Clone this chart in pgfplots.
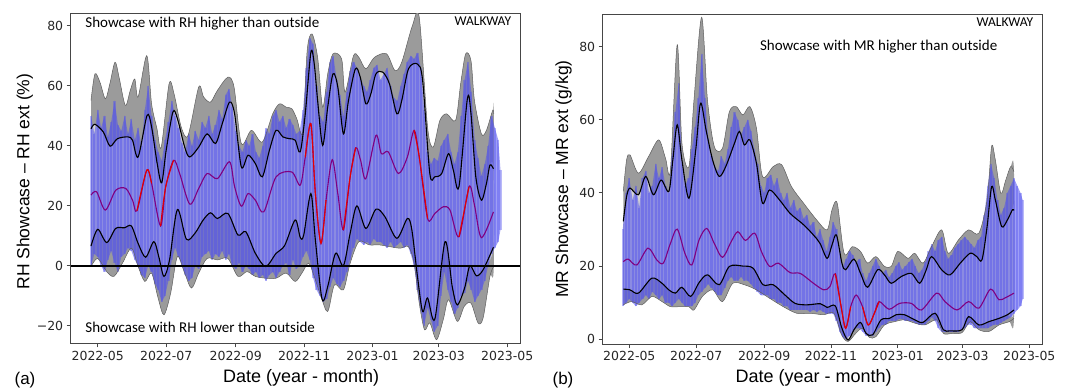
\documentclass[border=0pt]{standalone}
\usepackage{pgfplots}
\pgfplotsset{compat=1.18}
\usepackage{pgfplotstable}
\usepackage{fontspec}
\setmainfont{DejaVu Sans}
\newfontfamily\labfont{Liberation Sans}
\newfontfamily\calfont{Carlito}
\definecolor{dgray}{RGB}{155,155,155}
\definecolor{lgray}{RGB}{212,212,212}
\definecolor{edgegray}{RGB}{95,95,95}
\definecolor{bluefill}{RGB}{80,80,238}
\definecolor{meanpurple}{RGB}{128,0,128}
\definecolor{meanred}{RGB}{228,0,0}
\definecolor{framegray}{RGB}{70,70,70}

% ---------------- Panel (a) ----------------
\pgfplotstableread{
d v
-6 45.7
-2.5 47.2
5 44.6
11 39.9
17.5 42.4
27 43
31 41.9
36 36.3
44 50.2
48 46.3
53 34.1
57 27.7
61 38.5
67 51.3
71 49.1
77.5 39.6
82 36.3
90 39.6
97.5 44
105 40.8
111 47.4
117.5 54.6
122 50.7
128 33
134 36.9
140.5 34.1
146.7 29.7
153 38.5
159 45.2
165 43
171 42.4
176 41.9
180.5 38
185 50.7
190 71.2
193 67.3
196 55.1
200.5 40.2
205 52.9
209.7 64
214 59.6
219 44
223.5 55.1
229.7 65.7
234 62.9
239 54
243.5 57.4
248 64
254 64.6
260 60.7
266.6 50.7
271 55.1
277 65.7
285 67.3
289.6 61.8
296 30.8
300.5 29.7
306.6 30.8
312.7 37.4
317 31.9
322 26.4
329.5 55.7
332.7 50.7
337 29.7
342 21.9
346.5 27.5
349.6 33.6
352.7 32.4
}\aub

\pgfplotstableread{
d v
-6 23.6
-1 24.7
6.8 18.6
16 25.2
25 25.8
31 21.9
35 18.4
43.7 31.9
48 27.5
56 13.3
60.6 26.4
67.6 35.2
73 30.8
82 20.6
90 25.8
97.5 30.8
106.7 29.1
117.5 34.7
122 26.4
128 19.9
134 24.1
140.5 21.9
148 18
159 29.7
173 31.3
180.5 26.9
185 36.3
190 47.4
194 24.1
199 7.5
203.5 21.9
209 35.4
214 24.1
219 12
225 29.7
230 39.4
234.3 35.2
239 29.1
248 43.5
252.8 37.4
259 38
268 30.8
276 36.3
282 45.2
286.6 36.3
294 15.8
300.5 17.5
308 19.7
314 18.6
322 9.7
331 26.4
335.8 20.3
342 9.4
352.7 18
}\amean

\pgfplotstableread{
d v
-6 6.6
0 12.2
8 7.8
16 12.5
23.7 12.7
30 13.3
36 7.5
42.7 2.9
50 8.1
54.4 3.1
59 -3.5
64 2
71 18.8
79 8.9
86.7 10.9
94 15.3
100.5 17.7
106.7 15.8
116 17.5
125 10.3
132 11.4
140.5 4.2
149.7 -0.2
159 4.2
166.6 6.8
176 15.3
180.5 9.5
183.6 10.3
190 24.1
194 8.6
200 -11.1
205 -6.9
212 4.2
219 0.1
225 10.9
231 20
239 12.5
248 18.9
256 16.4
266.6 9.2
276 15.8
280 12
285 -3.5
289.6 -15.2
294 -10.7
300.5 -17.7
309.6 8.1
316 -6.9
320.5 -13
327 -7.4
331.7 0.1
337.5 -3.3
343.5 -1.3
352.7 6.2
}\alb

\pgfplotstableread{
d v
-6 55.1
-2.5 64
2 61.2
6.8 55.7
10.8 60.7
15.4 67.9
19 62.9
24.6 53.5
29 58.5
33 62.3
36 56.3
43.7 70.1
48 54
52.8 45.7
56.6 39.6
63.6 60.7
68 57.4
74.4 46.3
80.5 43.5
90 59.6
94.4 56.3
100.5 54.6
106.7 58.5
116 62.9
121.5 59.6
128 40.8
137 45.2
146.7 41.3
156 50.7
162 54
168 52.9
173 52.4
177.4 49.1
182.7 44.6
186.7 71.8
191 77.3
196 69.5
200.5 52.9
205 64
209.7 70.7
217.4 69
220.5 57.9
228 70.1
232.8 69.5
239 65.7
246.6 69.5
257.4 70.7
265 65.1
271 67.9
280.5 80.1
286.6 82.8
294 46.3
299 39.6
305 48.5
311 50.7
319 48.5
323.5 60.7
328 70.7
332.7 68.4
335.8 55.1
342 44
346.5 45.2
352 51.8
353 50.7
}\aet

\pgfplotstableread{
d v
-6 -0.2
0 2.5
8 -1.9
14.5 -3.5
22 0.9
30 5.9
36 -0.2
42 -5.2
48 -2.4
53.8 -10.7
59 -16.3
65 -9.1
71 3.1
77.5 -2.4
83.6 -7.4
90 -2.4
97.5 2.5
106.7 2
116 2.5
125 -3.5
133 -1.9
140.5 -3.5
149.7 -4.1
159 -4.1
168 -2.4
176 -5.2
182 -2.4
188 0.9
193 -3.5
199 -10.2
205 -15.2
211 -6.3
219 -8
225 0.9
232.8 8.1
242 7
251 7
260.5 6.4
269.7 5.9
277 6.4
282 0.9
286.6 -12.4
291.3 -21.3
296 -19
302 -24.6
308 -17.9
312.7 -11.3
320.5 -18.5
326.7 -13.5
332.7 -12.4
339 -19
343.5 -17.4
349.6 -3.5
353 -0.2
}\aeb

\pgfplotstableread{
d v
-6 50
-3 44
0 52
3 46
6 50
9 43
12 48
15 55
18 47
21 45
24 50
27 44
30 49
33 42
36 46
39 40
42 52
45 60
48 50
51 42
54 38
57 35
60 42
63 48
66 55
69 50
72 46
75 41
78 38
81 44
84 40
87 45
90 42
93 48
96 46
99 50
102 44
105 47
108 52
111 49
114 57
117 59
120 53
123 45
126 40
129 38
132 42
135 40
138 44
141 38
144 36
147 40
150 46
153 44
156 50
159 52
162 48
165 50
168 46
171 49
174 47
177 44
180 45
183 52
186 66
189 76
192 74
195 60
198 50
201 48
204 58
207 68
210 70
213 62
216 57
219 50
222 58
225 65
228 68
231 66
234 63
237 60
240 58
243 62
246 66
249 67
252 62
255 64
258 66
261 60
264 56
267 55
270 60
273 64
276 68
279 70
282 69
285 71
288 66
291 52
294 38
297 34
300 36
303 35
306 40
309 42
312 44
315 38
318 34
321 38
324 50
327 62
330 68
333 58
336 42
339 36
342 30
345 34
348 40
351 50
354 46
357 42
359 32
}\abt

\pgfplotstableread{
d v
-6 0
-3 4
0 3
3 0
6 -2
9 2
12 5
15 1
18 -2
21 3
24 4
27 6
30 5
33 2
36 0
39 -3
42 -4
45 0
48 -2
51 -6
54 -8
57 -12
60 -10
63 -5
66 2
69 6
72 3
75 0
78 -3
81 -5
84 -4
87 0
90 -1
93 3
96 4
99 5
102 2
105 4
108 3
111 5
114 2
117 4
120 0
123 -1
126 1
129 -2
132 0
135 -1
138 -3
141 -2
144 -4
147 -3
150 -5
153 -3
156 -2
159 -4
162 -2
165 0
168 1
171 -3
174 2
177 -1
180 0
183 3
186 5
189 2
192 -4
195 -8
198 -10
201 -12
204 -11
207 -7
210 -4
213 -6
216 -7
219 -5
222 -2
225 2
228 6
231 9
234 8
237 7
240 8
243 7
246 9
249 8
252 8
255 7
258 6
261 8
264 6
267 7
270 8
273 6
276 7
279 4
282 0
285 -8
288 -15
291 -20
294 -14
297 -18
300 -22
303 -20
306 -10
309 -2
312 -8
315 -12
318 -16
321 -14
324 -10
327 -9
330 -5
333 -8
336 -12
339 -10
342 -8
345 -5
348 0
351 4
354 6
357 8
359 12
}\abb

% ---------------- Panel (b) ----------------
\pgfplotstableread{
d v
-5.5 32.2
-2.5 39
0.6 41.3
8.3 39.5
15 44.5
22 39.5
29 43.5
36 40.4
39.7 49
43.7 58.6
48 49
54.4 38.5
60.6 51.7
65 64.5
70 57.2
76 49
82 44.5
88 47.2
96 53.6
100.5 56.8
105 53.1
110 54.5
116 48.1
121.5 37.2
128 40.8
137 38.1
146.7 34.4
159 31.3
168 28.5
174 26.2
180.5 22.1
185 25.8
189 28.5
194 20.8
197.4 19
205 21.9
211 18
217.4 14.2
226.6 19
232.8 17.6
239 15.3
248 17.1
257.4 18
265 15.3
271 19
275.8 22.6
285 19
292.7 17.6
302 20.8
311 23.5
317 22.6
321.8 21.7
326.5 30.8
330.6 41.7
334 38.1
339.8 30.8
345 32.6
349.6 35.4
351 35.2
}\bub

\pgfplotstableread{
d v
-5.5 21.2
-1 21.9
6.8 20.3
17 24.9
25 21.7
31 20.8
37.5 26.2
43.7 30.1
50.7 23.5
57 20.3
63.7 27.2
70.7 30.3
77.5 26.2
85 22.4
93 26.7
99 29.4
106 27
114.4 29
120.5 24
128 19.9
136 20.8
146.7 18.2
156 18
168 15.3
177.4 13.5
183 14.4
188 17.9
193 9.4
197.4 3
202 8.9
207 12.1
212.8 8.9
218 3.9
223.6 7.1
228 10.3
237 8.2
246.6 9.8
257.4 9.8
266.6 8
280.4 12.6
288 10.3
299 8
309.6 10.3
319 8.5
329.6 13.7
337.3 10.8
343.5 11.4
351 12.6
}\bmean

\pgfplotstableread{
d v
-5.5 13.7
0.6 13.5
8.3 12.6
20.6 16.7
29.8 15.3
36 13.5
42 12.6
48 14.2
56 11.7
63.7 15.5
71.3 17.6
82 14.9
91.3 19.9
103.6 20
113 19.4
122 14.9
131.3 14.9
142 12.1
151.3 9.8
162 9.4
174.4 9.7
180.5 8.7
188 9.1
194 3
199.6 -0.2
205 2.6
211 4.6
216 1.6
222 1.2
229.7 5.3
237.4 5.7
243.5 6.7
251 6.7
260.5 5.3
268 4.6
279 7.1
286.6 2.6
292.7 2.3
303.6 2.6
309.6 6.2
319 3.9
328 4.8
337.3 5.7
345 6.7
351 8
}\blb

\pgfplotstableread{
d v
-5.5 40.4
-2.5 49
0.6 50.4
8.3 45.4
17.5 49.9
26.8 54.5
33 49.5
37.5 46.3
43.7 80.5
48 53.6
54.4 47.2
59 65.4
66 88
71.3 65.4
77.5 52.7
85 52.2
91.3 62.2
97.5 63.6
103.6 61.3
110 63.6
116 57.7
121.5 44.5
131.3 47.2
139 47.7
148 41.7
159 37.2
171 32.6
180.5 29.9
185 35.4
189.7 37.2
196 23.5
203.6 25.3
211 24
217.4 20.8
225 22.6
232.8 19.9
239 19.9
245 24
254.3 22.1
260.5 23.5
268 20.8
275.8 25.3
285 29.9
291 23.5
300.5 27.2
309.6 29.9
319 29
326.5 38.1
330.6 52.7
334 49
339 39.9
343.5 43.5
348 47.2
351 45.8
}\bet

\pgfplotstableread{
d v
-5.5 9.4
2 10.3
11.4 9.4
20.6 11.7
29.8 10.3
37.5 8.9
45 8.9
54.4 8.9
59 8
66.7 11.7
76 13.5
85 10.3
94.4 15.3
105 14.9
116 13.5
128 11.2
140.5 8.9
152.8 7.1
165 7.1
177.4 6.7
186.7 7.1
193.7 1.2
199.6 -0.6
206.6 1.6
212.8 3
219 0.5
225 0.7
232.8 3.9
242 4.8
251 5.3
260.5 4.4
269.7 3.9
280.4 5.3
286.6 1.6
294.3 1.6
303.6 1.8
311 4.8
319 2.6
328 2.1
337.3 3.9
346.6 4.8
351 5.7
}\beb

\pgfplotstableread{
d v
-6 30
-3 40
0 44
3 38
6 42
9 36
12 44
15 46
18 40
21 42
24 48
27 44
30 47
33 42
36 40
39 50
42 62
45 70
48 48
51 42
54 44
57 52
60 58
63 66
66 78
69 66
72 55
75 50
78 47
81 46
84 50
87 48
90 52
93 58
96 62
99 60
102 56
105 58
108 60
111 57
114 52
117 48
120 42
123 40
126 44
129 45
132 42
135 44
138 40
141 38
144 40
147 36
150 38
153 35
156 36
159 33
162 34
165 31
168 32
171 28
174 30
177 27
180 24
183 28
186 32
189 30
192 24
195 20
198 22
201 24
204 23
207 21
210 22
213 18
216 16
219 18
222 20
225 22
228 20
231 18
234 19
237 17
240 18
243 20
246 21
249 19
252 20
255 21
258 22
261 20
264 18
267 19
270 21
273 24
276 26
279 24
282 27
285 28
288 24
291 22
294 23
297 25
300 26
303 27
306 28
309 27
312 26
315 25
318 27
321 28
324 34
327 42
330 48
333 44
336 38
339 34
342 36
345 40
348 42
351 44
354 42
357 40
359 38
}\bbt

\pgfplotstableread{
d v
-6 9
-3 10
0 11
3 10
6 9
9 10
12 11
15 12
18 11
21 13
24 12
27 11
30 12
33 10
36 10
39 9
42 10
45 11
48 10
51 9
54 9
57 9
60 10
63 12
66 13
69 14
72 15
75 14
78 13
81 12
84 12
87 14
90 16
93 17
96 16
99 16
102 17
105 16
108 16
111 15
114 14
117 13
120 12
123 12
126 12
129 11
132 11
135 10
138 10
141 9
144 9
147 8
150 8
153 8
156 8
159 8
162 8
165 7.5
168 8
171 7.5
174 8
177 7.5
180 7
183 7
186 7
189 5
192 2
195 0.5
198 0
201 1
204 2
207 3
210 3
213 2
216 1
219 1
222 1
225 2
228 3
231 4
234 4
237 5
240 5
243 5
246 5.5
249 5.5
252 5
255 5
258 5
261 4.5
264 4
267 4
270 4
273 5
276 6
279 5
282 3
285 2
288 2
291 2
294 2
297 2
300 2
303 2.5
306 3
309 4
312 4
315 3
318 3
321 3
324 3
327 3
330 3.5
333 4
336 4
339 4.5
342 5
345 5.5
348 6
351 7
354 8
357 9
359 11
}\bbb

% ---- closed bands: upper curve forward, lower curve reversed ----
\pgfplotstablesort[sort key=d, sort cmp=float <]{\aenv}{\aet}
\pgfplotstablesort[sort key=d, sort cmp=float >]{\aebr}{\aeb}
\pgfplotstablevertcat{\aenv}{\aebr}
\pgfplotstablesort[sort key=d, sort cmp=float <]{\ain}{\aub}
\pgfplotstablesort[sort key=d, sort cmp=float >]{\albr}{\alb}
\pgfplotstablevertcat{\ain}{\albr}
\pgfplotstablesort[sort key=d, sort cmp=float <]{\ablue}{\abt}
\pgfplotstablesort[sort key=d, sort cmp=float >]{\abbr}{\abb}
\pgfplotstablevertcat{\ablue}{\abbr}

\pgfplotstablesort[sort key=d, sort cmp=float <]{\benv}{\bet}
\pgfplotstablesort[sort key=d, sort cmp=float >]{\bebr}{\beb}
\pgfplotstablevertcat{\benv}{\bebr}
\pgfplotstablesort[sort key=d, sort cmp=float <]{\bin}{\bub}
\pgfplotstablesort[sort key=d, sort cmp=float >]{\blbr}{\blb}
\pgfplotstablevertcat{\bin}{\blbr}
\pgfplotstablesort[sort key=d, sort cmp=float <]{\bblue}{\bbt}
\pgfplotstablesort[sort key=d, sort cmp=float >]{\bbbr}{\bbb}
\pgfplotstablevertcat{\bblue}{\bbbr}

% ---- streak tables: top value with the bottom value beside it ----
\pgfplotstablecreatecol[copy column from table={\abb}{v}]{lo}{\abt}
\pgfplotstablecreatecol[copy column from table={\bbb}{v}]{lo}{\bbt}

\pgfplotsset{
  panel/.style={
    scale only axis,
    height=330pt,
    anchor=south west,
    axis line style={draw=framegray, line width=0.8pt},
    tick align=outside,
    xtick pos=lower, ytick pos=left,
    major tick length=4pt,
    tick style={framegray, line width=0.8pt},
    tick label style={font=\fontsize{12.5}{14}\selectfont, text=black!85},
    xtick={0,61,123,184,245,304,365},
    xticklabels={2022-05,2022-07,2022-09,2022-11,2023-01,2023-03,2023-05},
    xlabel={Date (year - month)},
    xlabel style={font=\labfont\fontsize{18}{20}\selectfont, anchor=center},
    ylabel style={font=\labfont\fontsize{17.5}{20}\selectfont, anchor=center},
    clip=true,
  },
  envedge/.style={edgegray, line width=0.5pt, smooth},
  blk/.style={black, line width=1.1pt, smooth},
  meanl/.style={meanpurple, line width=1.1pt, smooth},
  meanr/.style={meanred, line width=1.1pt, smooth},
  streaks/.style={only marks, mark=*, mark size=0pt,
    mark options={draw=none, fill=none},
    error bars/.cd, y dir=minus, y explicit, error mark=none,
    error bar style={draw=bluefill, line width=2.2pt, opacity=0.4}},
}

\begin{document}
\begin{tikzpicture}

% ================= (a) =================
\begin{axis}[panel,
  at={(70.7pt,46.7pt)}, width=449.3pt,
  xmin=-24.1, xmax=376.4, ymin=-25.8, ymax=84.2,
  ytick={-20,0,20,40,60,80},
  yticklabels={−20,0,20,40,60,80},
  ylabel={RH Showcase – RH ext (\%)},
  xlabel style={at={(axis description cs:0.513,-0.105)}},
  ylabel style={at={(axis description cs:-0.102,0.49)}},
]
\addplot[draw=none, fill=dgray, smooth] table {\aenv};
\addplot[draw=none, fill=lgray, smooth] table {\ain};
\addplot[draw=none, fill=bluefill, fill opacity=0.55] table {\ablue};
\addplot[streaks] table[x=d, y=v, y error minus expr=\thisrow{v}-\thisrow{lo}] {\abt};
\addplot[envedge] table {\aet};
\addplot[envedge] table {\aeb};
\addplot[blk] table {\aub};
\addplot[blk] table {\alb};
\addplot[meanl] table {\amean};
\addplot[meanr] coordinates {(35,18.4) (43.7,31.9) (48,27.5)};
\addplot[meanr] coordinates {(56,13.3) (60.6,26.4) (67.6,35.2)};
\addplot[meanr] coordinates {(185,36.3) (190,47.4) (194,24.1) (199,7.5) (203.5,21.9)};
\addplot[meanr] coordinates {(219,12) (225,29.7) (230,39.4)};
\addplot[meanr] coordinates {(282,45.2) (286.6,36.3) (294,15.8)};
\addplot[meanr] coordinates {(322,9.7) (331,26.4)};
\addplot[black, line width=1.3pt] coordinates {(-24.1,0) (376.4,0)};
\node[font=\calfont\fontsize{15}{17}\selectfont, anchor=west] at (rel axis cs:0.025,0.968) {Showcase with RH higher than outside};
\node[font=\calfont\fontsize{15}{17}\selectfont, anchor=west] at (rel axis cs:0.025,0.047) {Showcase with RH lower than outside};
\node[font=\calfont\fontsize{13.5}{15}\selectfont, anchor=east] at (rel axis cs:0.988,0.976) {WALKWAY};
\end{axis}

% ================= (b) =================
\begin{axis}[panel,
  at={(602.7pt,46pt)}, width=439.3pt,
  xmin=-24.3, xmax=376.6, ymin=-1.3, ymax=88.9,
  ytick={0,20,40,60,80},
  yticklabels={0,20,40,60,80},
  ylabel={MR Showcase – MR ext (g/kg)},
  xlabel style={at={(axis description cs:0.48,-0.103)}},
  ylabel style={at={(axis description cs:-0.089,0.5)}},
]
\addplot[draw=none, fill=dgray, smooth] table {\benv};
\addplot[draw=none, fill=lgray, smooth] table {\bin};
\addplot[draw=none, fill=bluefill, fill opacity=0.55] table {\bblue};
\addplot[streaks] table[x=d, y=v, y error minus expr=\thisrow{v}-\thisrow{lo}] {\bbt};
\addplot[envedge] table {\bet};
\addplot[envedge] table {\beb};
\addplot[blk] table {\bub};
\addplot[blk] table {\blb};
\addplot[meanl] table {\bmean};
\addplot[meanr] coordinates {(188,17.9) (193,9.4) (197.4,3) (202,8.9)};
\addplot[meanr] coordinates {(212.8,8.9) (218,3.9) (223.6,7.1) (228,10.3)};
\node[font=\calfont\fontsize{15}{17}\selectfont, anchor=west] at (rel axis cs:0.35,0.90) {Showcase with MR higher than outside};
\node[font=\calfont\fontsize{13.5}{15}\selectfont, anchor=east] at (rel axis cs:0.988,0.976) {WALKWAY};
\end{axis}

\node[font=\labfont\fontsize{17}{20}\selectfont] at (25pt,10pt) {(a)};
\node[font=\labfont\fontsize{17}{20}\selectfont] at (563pt,10pt) {(b)};
\path (0,0) (1070pt,390pt);
\end{tikzpicture}
\end{document}
